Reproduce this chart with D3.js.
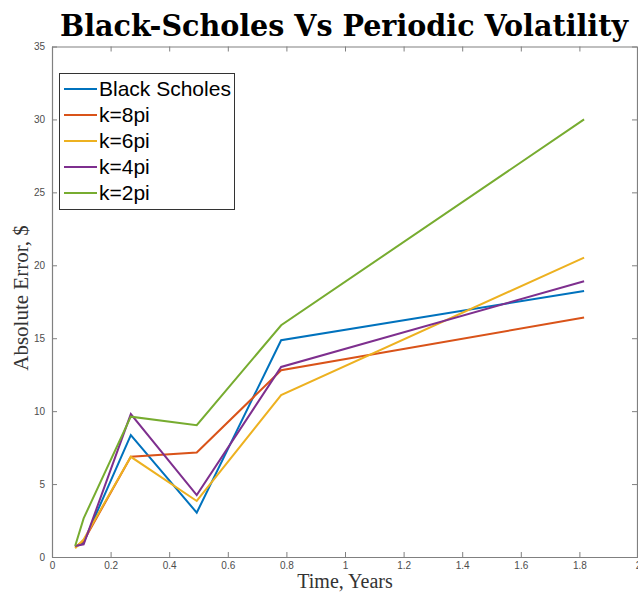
<!DOCTYPE html>
<html>
<head>
<meta charset="utf-8">
<script src="https://cdn.jsdelivr.net/npm/d3@7"></script>
<style>
  body { margin: 0; background: #fff; }
  .tick text { font-family: "Liberation Sans", Arial, sans-serif; font-size: 10px; fill: #4d4d4d; }
</style>
</head>
<body>
<svg id="chart" width="638" height="592"></svg>
<script>
// Zeitpunkte (Jahre)
var times = [0.079, 0.108, 0.269, 0.494, 0.782, 1.816];

// absolute Fehler je Modell
var blackScholes = [0.70, 1.00, 8.36, 3.04, 14.86, 18.24];
var k8pi = [0.70, 1.10, 6.87, 7.17, 12.80, 16.42];
var k6pi = [0.60, 1.20, 6.87, 3.84, 11.10, 20.53];
var k4pi = [0.75, 0.87, 9.80, 4.25, 13.03, 18.90];
var k2pi = [0.75, 2.65, 9.62, 9.04, 15.89, 30.00];

var seriesNames = ["Black Scholes", "k=8pi", "k=6pi", "k=4pi", "k=2pi"];
var seriesColors = ["#0072BD", "#D95319", "#EDB120", "#7E2F8E", "#77AC30"];
var xTicks = [0, 0.2, 0.4, 0.6, 0.8, 1, 1.2, 1.4, 1.6, 1.8, 2];
var yTicks = [0, 5, 10, 15, 20, 25, 30, 35];

var series = [blackScholes, k8pi, k6pi, k4pi, k2pi].map(function(vals, i){
  return { name: seriesNames[i], color: seriesColors[i], values: vals };
});

var svg = d3.select("#chart");
var m = { left: 52, right: 638, top: 46.5, bottom: 557 };

var x = d3.scaleLinear().domain([0, 2]).range([m.left, m.right]);
var y = d3.scaleLinear().domain([0, 35]).range([m.bottom, m.top]);

var axisColor = "#808080";

// untere Achse
svg.append("g")
  .attr("transform", "translate(0," + m.bottom + ")")
  .call(d3.axisBottom(x).tickValues(xTicks).tickSizeInner(-5).tickSizeOuter(0).tickPadding(5)
    .tickFormat(function(d){ return d3.format("")(+d.toFixed(1)); }));
// linke Achse
svg.append("g")
  .attr("transform", "translate(" + m.left + ",0)")
  .call(d3.axisLeft(y).tickValues(yTicks).tickSizeInner(-5).tickSizeOuter(0).tickPadding(7));
// obere und rechte Achse (nur Striche)
svg.append("g")
  .attr("transform", "translate(0," + m.top + ")")
  .call(d3.axisTop(x).tickValues(xTicks).tickSizeInner(-5).tickSizeOuter(0).tickFormat(""));
svg.append("g")
  .attr("transform", "translate(" + (m.right - 1) + ",0)")
  .call(d3.axisRight(y).tickValues(yTicks).tickSizeInner(-5).tickSizeOuter(0).tickFormat(""));

svg.selectAll(".domain, .tick line").attr("stroke", axisColor).attr("stroke-width", 1);
svg.selectAll(".domain").attr("stroke-width", 1.2);

// Linien
var line = d3.line()
  .x(function(d, i){ return x(times[i]); })
  .y(function(d){ return y(d); });

svg.append("g").selectAll("path.series")
  .data(series)
  .join("path")
  .attr("class", "series")
  .attr("fill", "none")
  .attr("stroke", function(d){ return d.color; })
  .attr("stroke-width", 2)
  .attr("stroke-linejoin", "miter")
  .attr("d", function(d){ return line(d.values); });

// Titel
svg.append("text")
  .attr("x", 344).attr("y", 36)
  .attr("text-anchor", "middle")
  .attr("textLength", 568).attr("lengthAdjust", "spacingAndGlyphs")
  .style("font-family", "'DejaVu Serif', serif")
  .style("font-weight", "bold").style("font-size", "29px")
  .text("Black-Scholes Vs Periodic Volatility");

// Achsenbeschriftungen
svg.append("text")
  .attr("x", 345).attr("y", 588)
  .attr("text-anchor", "middle")
  .style("font-family", "'Liberation Serif', 'Times New Roman', serif")
  .style("font-size", "20px").style("fill", "#333")
  .text("Time, Years");

svg.append("text")
  .attr("transform", "translate(28,298) rotate(-90)")
  .attr("text-anchor", "middle")
  .style("font-family", "'Liberation Serif', 'Times New Roman', serif")
  .style("font-size", "21px").style("fill", "#333")
  .text("Absolute Error, $");

// Legende
var legend = svg.append("g");
legend.append("rect")
  .attr("x", 59.5).attr("y", 73.5).attr("width", 175).attr("height", 136)
  .attr("fill", "#fff").attr("stroke", "#333").attr("stroke-width", 1);

var rows = legend.selectAll("g.row")
  .data(series)
  .join("g")
  .attr("class", "row")
  .attr("transform", function(d, i){ return "translate(0," + (89 + i * 26) + ")"; });

rows.append("line")
  .attr("x1", 64).attr("x2", 97)
  .attr("stroke", function(d){ return d.color; })
  .attr("stroke-width", 2);

rows.append("text")
  .attr("x", 99).attr("dy", "0.35em")
  .style("font-family", "'Liberation Sans', Arial, sans-serif")
  .style("font-size", "21px").style("fill", "#000")
  .text(function(d){ return d.name; });
</script>
</body>
</html>
